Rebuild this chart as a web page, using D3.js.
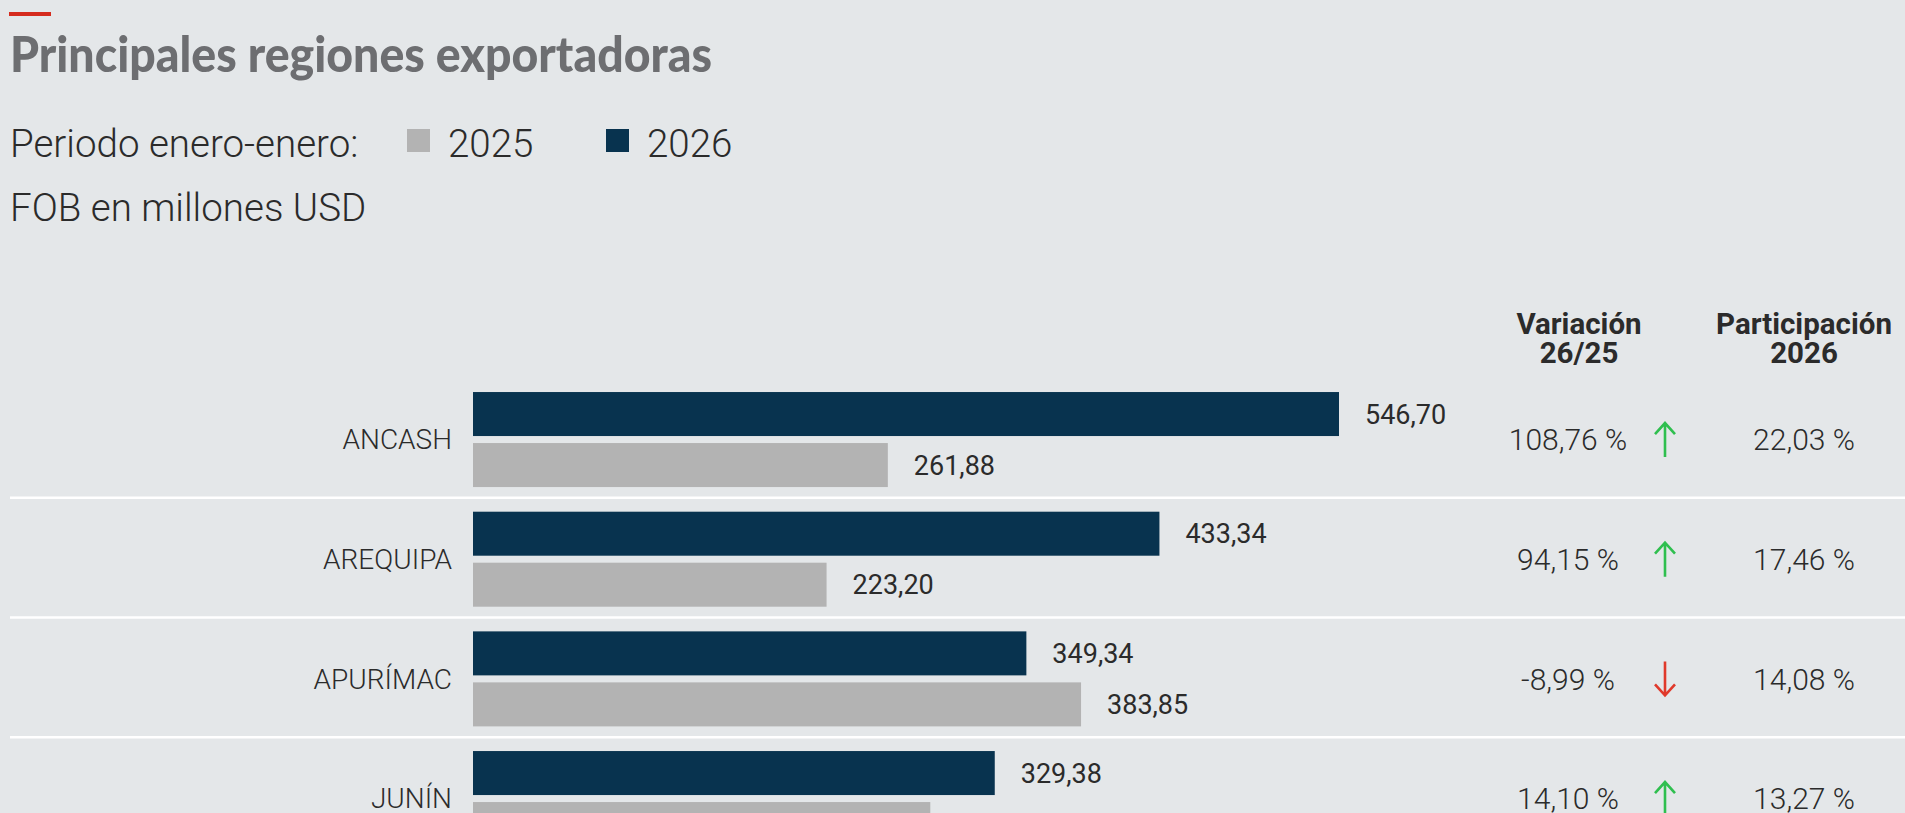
<!DOCTYPE html>
<html lang="es">
<head>
<meta charset="utf-8">
<title>Principales regiones exportadoras</title>
<script src="https://cdn.jsdelivr.net/npm/d3@7"></script>
<style>
  html, body { margin: 0; padding: 0; background: #e4e7e9; overflow: hidden; }
  svg { display: block; }
  .light { font-family: Roboto, "Open Sans", sans-serif; font-weight: 300; fill: #2b2b2b; }
  .num { font-family: Roboto, "Open Sans", sans-serif; font-weight: 400; fill: #2b2b2b; }
  .head { font-family: Roboto, "Open Sans", sans-serif; font-weight: 700; fill: #2b2b2b; }
  .title { font-family: Lato, "Open Sans", sans-serif; font-weight: 900; fill: #6d6e71; }
</style>
</head>
<body>
<svg id="chart" width="1905" height="813"></svg>
<script>
// Exportaciones FOB por región, periodo enero-enero (millones USD)
const regions   = ["ANCASH", "AREQUIPA", "APURÍMAC", "JUNÍN"];
const fob2026   = [546.70, 433.34, 349.34, 329.38];
const fob2025   = [261.88, 223.20, 383.85, 288.68];
const variation = [108.76, 94.15, -8.99, 14.10];   // % variación 26/25
const share2026 = [22.03, 17.46, 14.08, 13.27];    // % participación 2026
const seriesKeys = ["2026", "2025"];
const legendKeys = ["2025", "2026"];

const colors = { "2026": "#08334f", "2025": "#b3b3b3" };
const upColor = "#2fbf4f", downColor = "#e0392b";

const es = d3.formatLocale({ decimal: ",", thousands: ".", grouping: [3], currency: ["", ""], minus: "-" });
const fmt = es.format(".2f");

const rows = regions.map((r, i) => ({
  region: r,
  values: { "2026": fob2026[i], "2025": fob2025[i] },
  variation: variation[i],
  share: share2026[i]
}));

const svg = d3.select("#chart");

// Encabezado
svg.append("rect").attr("x", 9).attr("y", 12).attr("width", 42).attr("height", 4).attr("fill", "#d52b1e");
svg.append("text").attr("class", "title")
  .attr("x", 10).attr("y", 72)
  .attr("font-size", 50)
  .attr("textLength", 702).attr("lengthAdjust", "spacingAndGlyphs")
  .text("Principales regiones exportadoras");

svg.append("text").attr("class", "light").attr("x", 10).attr("y", 157).attr("font-size", 38.5)
  .text("Periodo enero-enero:");

const legendX = { "2025": 407, "2026": 606 };
const lg = svg.append("g").selectAll("g").data(legendKeys).join("g")
  .attr("transform", d => `translate(${legendX[d]},129)`);
lg.append("rect").attr("width", 23).attr("height", 23).attr("fill", d => colors[d]);
lg.append("text").attr("class", "light").attr("x", 41).attr("y", 28).attr("font-size", 38.5).text(d => d);

svg.append("text").attr("class", "light").attr("x", 10).attr("y", 221).attr("font-size", 38.5)
  .text("FOB en millones USD");

// Columnas de la derecha
const colVar = 1568, colArrow = 1665, colShare = 1804;
const heads = [
  { x: 1579, lines: ["Variación", "26/25"] },
  { x: colShare, lines: ["Participación", "2026"] }
];
const hg = svg.append("g").selectAll("text").data(heads).join("text")
  .attr("class", "head").attr("font-size", 29.5).attr("text-anchor", "middle");
hg.selectAll("tspan").data(d => d.lines.map(l => ({ x: d.x, l }))).join("tspan")
  .attr("x", d => d.x).attr("y", (d, i) => 334 + i * 29).text(d => d.l);

// Escalas
const rowStep = 119.67;
const y = d3.scaleBand().domain(regions).range([379.7, 379.7 + rowStep * regions.length]).padding(0);
const blockH = 95;
const yIn = d3.scaleBand().domain(seriesKeys).range([0, blockH]).paddingInner(7 / 51).paddingOuter(0);
const blockOffset = (y.step() - blockH) / 2;
const x = d3.scaleLinear().domain([0, d3.max(fob2026.concat(fob2025))]).range([473, 1339]);

// Separadores entre filas
svg.append("g").selectAll("line").data(regions.slice(0, -1)).join("line")
  .attr("x1", 10).attr("x2", 1905)
  .attr("y1", d => y(d) + y.step() - 1.5).attr("y2", d => y(d) + y.step() - 1.5)
  .attr("stroke", "#ffffff").attr("stroke-width", 2.5);

const rg = svg.append("g").selectAll("g").data(rows).join("g")
  .attr("transform", d => `translate(0,${y(d.region) + blockOffset})`);

// Nombre de la región
rg.append("text").attr("class", "light")
  .attr("x", 452).attr("y", blockH / 2).attr("dy", "0.355em")
  .attr("text-anchor", "end").attr("font-size", 28)
  .text(d => d.region);

// Barras
const bars = rg.selectAll("g.bar")
  .data(d => seriesKeys.map(k => ({ key: k, value: d.values[k] })))
  .join("g").attr("class", "bar");
bars.append("rect")
  .attr("x", x(0)).attr("y", d => yIn(d.key))
  .attr("width", d => x(d.value) - x(0)).attr("height", yIn.bandwidth())
  .attr("fill", d => colors[d.key]);
bars.append("text").attr("class", "num")
  .attr("x", d => x(d.value) + 26)
  .attr("y", d => yIn(d.key) + yIn.bandwidth() / 2).attr("dy", "0.355em")
  .attr("font-size", 27)
  .text(d => fmt(d.value));

// Variación y participación
rg.append("text").attr("class", "light")
  .attr("x", colVar).attr("y", blockH / 2).attr("dy", "0.355em")
  .attr("text-anchor", "middle").attr("font-size", 30)
  .text(d => fmt(d.variation) + " %");

const arrowLen = 35, headW = 10, headH = 12;
rg.append("path")
  .attr("transform", d => `translate(${colArrow},${blockH / 2}) scale(1,${d.variation >= 0 ? 1 : -1})`)
  .attr("d", `M0,${arrowLen / 2} V${-arrowLen / 2 + 1} M${-headW},${-arrowLen / 2 + headH} L0,${-arrowLen / 2 + 1} L${headW},${-arrowLen / 2 + headH}`)
  .attr("fill", "none")
  .attr("stroke", d => d.variation >= 0 ? upColor : downColor)
  .attr("stroke-width", 2.6);

rg.append("text").attr("class", "light")
  .attr("x", colShare).attr("y", blockH / 2).attr("dy", "0.355em")
  .attr("text-anchor", "middle").attr("font-size", 30)
  .text(d => fmt(d.share) + " %");
</script>
</body>
</html>
